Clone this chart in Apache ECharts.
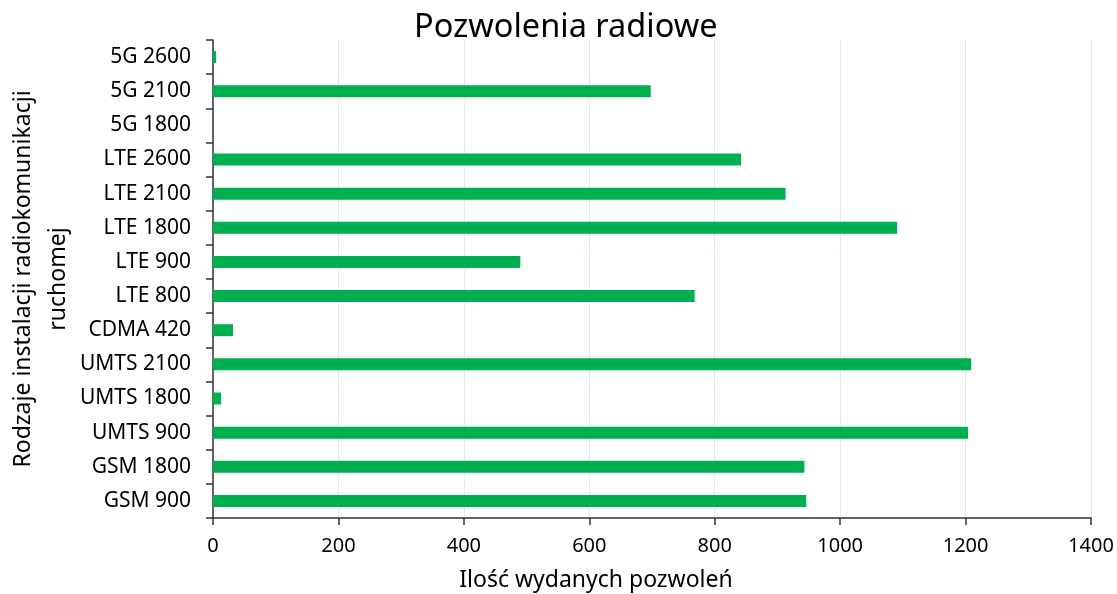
<!DOCTYPE html>
<html>
<head>
<meta charset="utf-8">
<script src="https://cdn.jsdelivr.net/npm/echarts@6/dist/echarts.min.js"></script>
<style>
  html, body { margin: 0; padding: 0; background: #fff; }
  #chart { width: 1117px; height: 594px; }
</style>
</head>
<body>
<div id="chart"></div>
<script>
// categories bottom -> top
const categories = ['GSM 900', 'GSM 1800', 'UMTS 900', 'UMTS 1800', 'UMTS 2100', 'CDMA 420',
  'LTE 800', 'LTE 900', 'LTE 1800', 'LTE 2100', 'LTE 2600', '5G 1800', '5G 2100', '5G 2600'];
const permits = [946, 943, 1204, 13, 1209, 32, 768, 490, 1091, 913, 842, 0, 698, 5];

const chart = echarts.init(document.getElementById('chart'));
const font = 'Noto Sans, sans-serif';

chart.setOption({
  animation: false,
  title: {
    text: 'Pozwolenia radiowe',
    left: 414,
    top: 11,
    padding: 0,
    textStyle: { fontFamily: font, fontSize: 32.5, fontWeight: 'normal', color: '#000' }
  },
  grid: { left: 213, right: 26, top: 40, bottom: 76, containLabel: false, outerBoundsMode: 'none' },
  xAxis: {
    type: 'value',
    min: 0,
    max: 1400,
    interval: 200,
    name: 'Ilość wydanych pozwoleń',
    nameLocation: 'middle',
    nameGap: 51,
    nameMoveOverlap: false,
    nameTextStyle: { fontFamily: font, fontSize: 23, color: '#000', padding: [0, 112, 0, 0] },
    axisLine: { show: true, lineStyle: { color: '#333', width: 1.5 } },
    axisTick: { show: true, length: 7, lineStyle: { color: '#333', width: 1.5 } },
    axisLabel: { fontFamily: font, fontSize: 20, color: '#000', margin: 18, formatter: v => String(v) },
    splitLine: { show: true, lineStyle: { color: '#e8e8e8', width: 1 } }
  },
  yAxis: {
    type: 'category',
    data: categories,
    name: 'Rodzaje instalacji radiokomunikacji\nruchomej',
    nameLocation: 'middle',
    nameRotate: 90,
    nameGap: 137,
    nameMoveOverlap: false,
    nameTextStyle: { fontFamily: font, fontSize: 23, color: '#000', lineHeight: 35 },
    axisLine: { show: true, lineStyle: { color: '#333', width: 1.5 } },
    axisTick: { show: true, length: 7, inside: false, lineStyle: { color: '#333', width: 1.5 } },
    axisLabel: { fontFamily: font, fontSize: 21, color: '#000', margin: 22 },
    splitLine: { show: false }
  },
  series: [{
    type: 'bar',
    data: permits,
    barWidth: 12,
    itemStyle: { color: '#00B050' }
  }]
});
</script>
</body>
</html>
